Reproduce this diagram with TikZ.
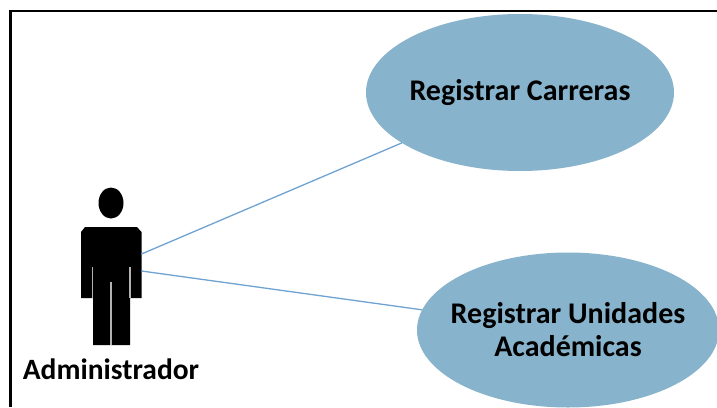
\documentclass[tikz,border=0pt]{standalone}
\usepackage{fontspec}
\setmainfont{Carlito}
\usepackage{tikz}
\usetikzlibrary{shapes.geometric}

\definecolor{casoazul}{HTML}{87B4CC}
\definecolor{lineaazul}{HTML}{6FA3D2}

\tikzset{
    casouso/.style={ellipse, fill=casoazul, inner sep=-30pt, outer sep=0pt, align=center, font=\fontsize{30}{33}\selectfont\bfseries},
    conector/.style={lineaazul, line width=1.3pt},
    rendija/.style={gray!60, line width=1.4pt}
}

\begin{document}
\begin{tikzpicture}[x=1pt, y=-1pt]

    % Marco
    \useasboundingbox (0,0) rectangle (717,407);
    \clip (0,0) rectangle (717,407);
    \fill[white] (0,0) rectangle (717,407);
    \draw[black, line width=2.4pt] (10.5,407) -- (10.5,11) -- (717,11);

    % Casos de uso
    \node (carreras) at (520,92.5) [casouso, minimum width=308pt, minimum height=157pt] {Registrar Carreras};
    \node (unidades) at (568,330) [casouso, minimum width=302pt, minimum height=155pt] {Registrar Unidades\\Acad\'emicas};

    % Actor
    \fill (111,203) ellipse [x radius=12.5, y radius=15.5];
    \fill (85,227) -- (137,227) -- (141.5,232) -- (141.5,298) -- (130,298) -- (130,345) -- (93,345) -- (93,298) -- (81,298) -- (81,232) -- cycle;
    \draw[rendija] (92.5,267) -- (92.5,298);
    \draw[rendija] (130,267) -- (130,298);
    \draw[rendija] (111,282) -- (111,345);
    \node (admin) at (111,369.5) [font=\fontsize{29.5}{32}\selectfont\bfseries] {Administrador};

    % Puntos de salida en el actor
    \coordinate (brazo1) at (141.5,254);
    \coordinate (brazo2) at (141.5,271);

    % Lineas a los casos de uso
    \draw[conector] (brazo1) -- (carreras);
    \draw[conector] (brazo2) -- (unidades);

\end{tikzpicture}
\end{document}
